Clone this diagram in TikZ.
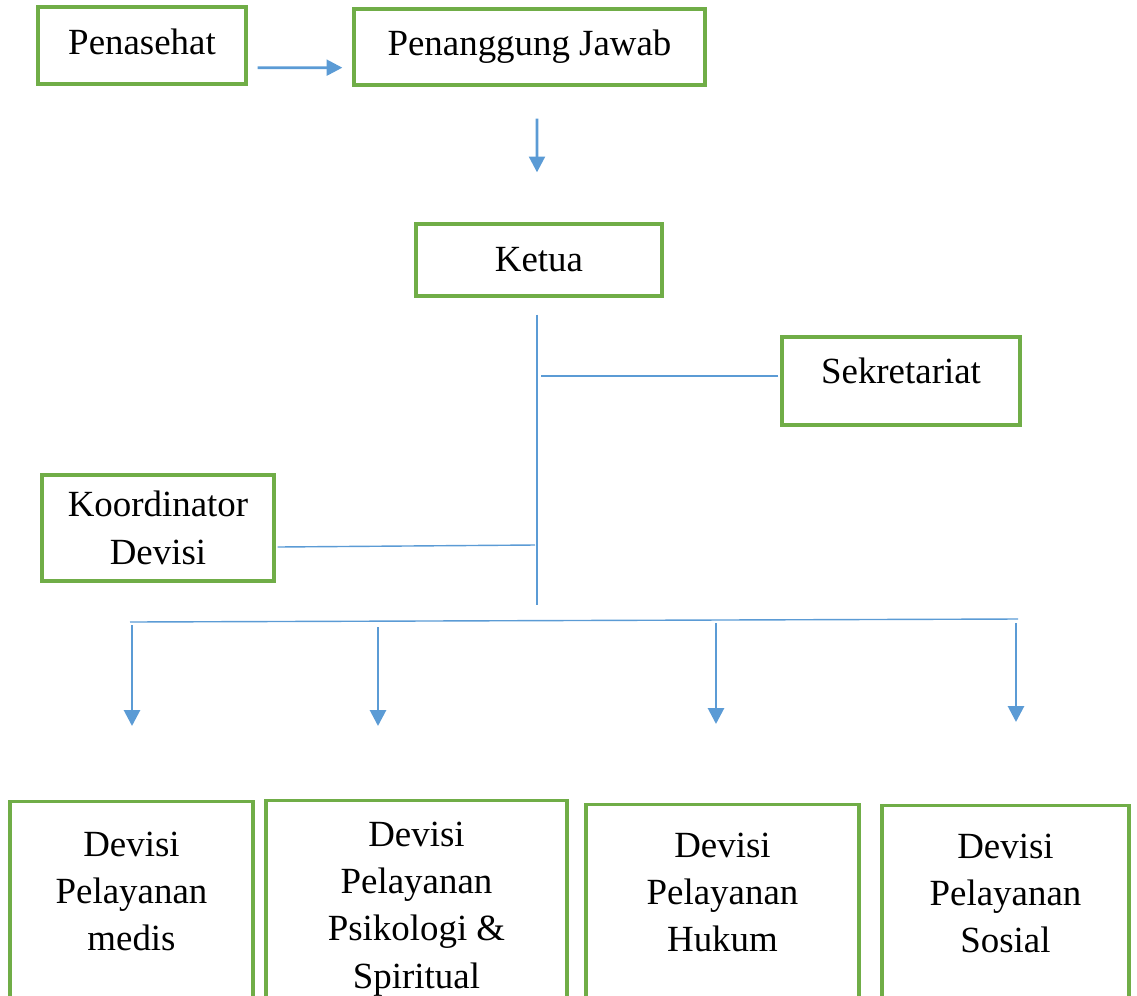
\documentclass[tikz,border=0pt]{standalone}
\usepackage{fontspec}
\setmainfont{Liberation Serif}
\usetikzlibrary{arrows.meta}
\definecolor{boxgreen}{HTML}{70AD47}
\definecolor{lineblue}{HTML}{5B9BD5}
\begin{document}
\begin{tikzpicture}[x=0.02cm,y=-0.02cm,
		box/.style={draw=boxgreen,line width=1.9pt,inner sep=0pt,align=center,font=\fontsize{21}{27}\selectfont},
		devbox/.style={box,anchor=north,text depth=5cm},
		arrowline/.style={lineblue,line width=1.6pt,-{Triangle[width=9pt,length=9pt]}},
		thinline/.style={lineblue,line width=0.8pt}]
	\useasboundingbox (0,0) rectangle (1137,995);
	\node[box,minimum width=4.16cm,minimum height=1.54cm,text depth=0.16cm] (penasehat) at (142,45.5) {Penasehat};
	\node[box,minimum width=7.02cm,minimum height=1.52cm] (pj) at (529.5,47) {Penanggung Jawab};
	\node[box,minimum width=4.92cm,minimum height=1.44cm] (ketua) at (539,260) {Ketua};
	\node[box,minimum width=4.76cm,minimum height=1.76cm,text depth=0.4cm] (sek) at (901,381) {Sekretariat};
	\node[box,minimum width=4.64cm,minimum height=2.12cm] (koord) at (158,528) {Koordinator\\Devisi};
	\node[devbox,minimum width=4.86cm,inner ysep=0.6cm] (medis) at (131.5,800) {Devisi\\Pelayanan\\medis};
	\node[devbox,minimum width=6.02cm,inner ysep=0.42cm] (psi) at (416.5,799) {Devisi\\Pelayanan\\Psikologi \&\\Spiritual};
	\node[devbox,minimum width=5.46cm,inner ysep=0.56cm] (hukum) at (722.5,803) {Devisi\\Pelayanan\\Hukum};
	\node[devbox,minimum width=4.94cm,inner ysep=0.56cm] (sosial) at (1005.5,804) {Devisi\\Pelayanan\\Sosial};
	\coordinate (trunkend) at (537,605);
	\coordinate (sekjoin) at (541,376);
	\coordinate (koordjoin) at (535,545);
	\coordinate (busL) at (130,622);
	\coordinate (busR) at (1018,619);
	\draw[arrowline] ([shift={(10,-18)}]penasehat.south east) -- ([shift={(-10,-19)}]pj.south west);
	\draw[arrowline] ([shift={(7.5,32)}]pj.south) -- ([shift={(-2,-50)}]ketua.north);
	\draw[thinline] ([shift={(-2,17)}]ketua.south) -- (trunkend);
	\draw[thinline] ([shift={(-2,-5)}]sek.west) -- (sekjoin);
	\draw[thinline] ([shift={(2,19)}]koord.east) -- (koordjoin);
	\draw[thinline] (busL) -- (busR);
	\draw[arrowline] ([shift={(0.5,-175)}]medis.north) -- ([shift={(0.5,-74)}]medis.north);
	\draw[arrowline] ([shift={(-38.5,-172)}]psi.north) -- ([shift={(-38.5,-73)}]psi.north);
	\draw[arrowline] ([shift={(-6.5,-180)}]hukum.north) -- ([shift={(-6.5,-79)}]hukum.north);
	\draw[arrowline] ([shift={(10.5,-181)}]sosial.north) -- ([shift={(10.5,-82)}]sosial.north);
\end{tikzpicture}
\end{document}
